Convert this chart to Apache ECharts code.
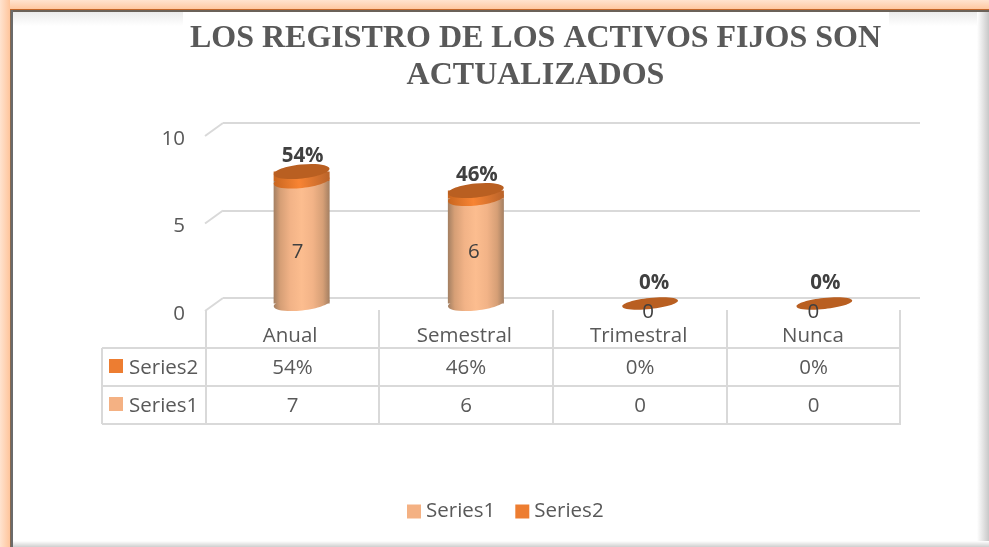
<!DOCTYPE html>
<html><head><meta charset="utf-8">
<style>html,body{margin:0;padding:0;background:#fff}#c{width:989px;height:547px}</style>
<script src="https://cdn.jsdelivr.net/npm/echarts@6/dist/echarts.min.js"></script>
</head><body><div id="c"></div>
<script>
const categories = ['Anual','Semestral','Trimestral','Nunca'];
const series1 = [7,6,0,0];
const series2 = [0.54,0.46,0,0];
const series2Text = ['54%','46%','0%','0%'];
const yTicks = [0,5,10];
const labelNudge = [-4,-2,-2,-11];
const capNudge = [1,1,4,1];

const FONT = '"Open Sans", sans-serif';
const FS = 20.5;
const GREY = '#595959';
const LINE = '#D9D9D9';
const C1 = '#F4B183';
const C2 = '#ED7D31';
const DX = -8.5, DY = 5.5, RX = 28, RY = 7, RY0 = 5.5, TILT = 6*Math.PI/180;
const bodyFill = {type:'linear',x:0,y:0,x2:1,y2:0,colorStops:[
  {offset:0,color:'#A37F62'},{offset:.12,color:'#D69F76'},{offset:.3,color:'#F2B387'},{offset:.5,color:'#FCBD8F'},
  {offset:.7,color:'#F2B387'},{offset:.88,color:'#D69F76'},{offset:1,color:'#A37F62'}]};
const capFill = {type:'linear',x:0,y:0,x2:1,y2:0,colorStops:[{offset:0,color:'#C9661F'},{offset:.45,color:'#F88433'},{offset:1,color:'#B9632A'}]};
const ell = (cx,cy,fill,ry)=>({type:'ellipse',shape:{cx:0,cy:0,rx:RX,ry:ry||RY},x:cx,y:cy,rotation:TILT,style:{fill}});
const valueText = (text,x,y)=>({type:'text',z2:30,style:{text,x,y,align:'center',verticalAlign:'middle',font:FS+'px '+FONT,fill:'#404040'}});

function renderBody(params,api){
  const i = api.value(0), v = api.value(1);
  if(!v) return {type:'group',children:[]};
  const b = api.coord([i,0]), t = api.coord([i,v]);
  const x = b[0]+DX, yb = b[1]+DY, yt = t[1]+DY;
  const mid = api.coord([i,3]);
  return {type:'group',children:[
    ell(x,yb,bodyFill),
    {type:'rect',shape:{x:x-RX,y:yt,width:RX*2,height:yb-yt},style:{fill:bodyFill}},
    valueText(String(v),x+labelNudge[i],mid[1]+DY+1)
  ]};
}
function renderCap(params,api){
  const i = api.value(0), base = api.value(1), v = api.value(2);
  const b = api.coord([i,base]), t = api.coord([i,base+v]);
  const x = b[0]+DX, yb = b[1]+DY, yt = t[1]+DY;
  const kids = [];
  if(v>0){
    kids.push(ell(x,yb,capFill));
    kids.push({type:'rect',shape:{x:x-RX,y:yt,width:RX*2,height:yb-yt},style:{fill:capFill}});
    kids.push(ell(x,yt,'#B95F21'));
  } else {
    kids.push(ell(x,yt,'#B95F21',RY0));
  }
  if(!base) kids.push(valueText(String(base),x+labelNudge[i],yb+9));
  kids.push({type:'text',z2:30,style:{text:series2Text[i],x:x+capNudge[i],y:yt-(v>0?15:20),align:'center',verticalAlign:'middle',font:'bold '+FS+'px '+FONT,fill:'#404040'}});
  return {type:'group',children:kids};
}

// frame and table, drawn with the chart's own graphic layer
const colX = [206,379,553,727,900];
const rowY = [348,386,424];
const g = [];
const rect=(x,y,w,h,fill,z)=>g.push({type:'rect',silent:true,z:z,shape:{x,y,width:w,height:h},style:{fill}});
const line=(x1,y1,x2,y2,w)=>g.push({type:'line',silent:true,z:1,shape:{x1,y1,x2,y2},style:{stroke:LINE,lineWidth:w||2}});
const txt=(text,x,y,align)=>g.push({type:'text',silent:true,z:5,style:{text,x,y,align:align||'center',verticalAlign:'middle',font:FS+'px '+FONT,fill:GREY}});
const grad=(x2,y2,stops)=>({type:'linear',x:0,y:0,x2,y2,colorStops:stops.map((c,i)=>({offset:i/(stops.length-1),color:c}))});
rect(0,0,989,547,'#ffffff',-10);
rect(0,0,989,10,grad(0,1,['#FFE3CF','#FFC59C']),-9);
rect(0,0,10,547,grad(1,0,['#FFE3CF','#FFC59C']),-9);
rect(10,9,979,1,'#C4672A',-8);
rect(10,10,979,2,'#6B6259',-8);
rect(10,10,1,537,'#8A6A50',-8);
rect(11,10,2,537,'#6B6B6B',-8);
rect(13,12,170,14,grad(0,1,['#EBEBEB','#FFFFFF']),-7);
rect(889,12,100,14,grad(0,1,['#EBEBEB','#FFFFFF']),-7);
rect(977,12,12,535,grad(1,0,['#FFFFFF','#C8C8C8']),-6);
rect(13,541,976,6,grad(0,1,['#FFFFFF','#CFCFCF']),-6);
// table
rowY.forEach(y=>line(102,y,901,y));
line(102,348,102,424);
colX.forEach(x=>line(x,310,x,424));
// depth stubs of the walls
const yPix = {10:123,5:210.5,0:298};
yTicks.forEach(t=>line(205,yPix[t]+13,223,yPix[t],2));
rect(109,359,14,14,C2,5);
rect(109,397,14,14,C1,5);
txt('Series2',129,368,'left');
txt('Series1',129,406,'left');
categories.forEach((c,i)=>{
  const cx=(colX[i]+colX[i+1])/2;
  txt(series2Text[i],cx,368);
  txt(String(series1[i]),cx,406);
});

const option = {
  animation:false,
  backgroundColor:'#fff',
  title:{text:'LOS REGISTRO DE LOS ACTIVOS FIJOS SON\nACTUALIZADOS',left:530.5,top:15,textAlign:'center',
    textStyle:{fontFamily:'"Liberation Serif",serif',fontWeight:'bold',fontSize:32,lineHeight:37,color:GREY}},
  legend:{data:['Series1','Series2'],left:402,top:496,itemWidth:14,itemHeight:14,itemGap:20,padding:5,icon:'rect',
    textStyle:{fontFamily:FONT,fontSize:FS,color:GREY}},
  grid:{left:223,top:123,width:697,height:175},
  xAxis:{type:'category',data:categories,
    axisLine:{show:false},axisTick:{show:false},splitLine:{show:false},
    axisLabel:{margin:28,padding:[0,40,0,0],fontFamily:FONT,fontSize:FS,color:GREY}},
  yAxis:{type:'value',min:0,max:10,interval:5,
    axisLine:{show:false},axisTick:{show:false},
    splitLine:{show:true,lineStyle:{color:LINE,width:2}},
    axisLabel:{margin:38,verticalAlign:'top',lineHeight:32,fontFamily:FONT,fontSize:FS,color:GREY}},
  graphic:g,
  series:[
    {name:'Series1',type:'custom',itemStyle:{color:C1},z:3,clip:false,renderItem:renderBody,
     encode:{x:0,y:1},data:series1.map((v,i)=>[i,v])},
    {name:'Series2',type:'custom',itemStyle:{color:C2},z:4,clip:false,renderItem:renderCap,
     encode:{x:0,y:1},data:series2.map((v,i)=>[i,series1[i],v])}
  ]
};
echarts.init(document.getElementById('c'),null,{renderer:'canvas'}).setOption(option);
</script></body></html>
